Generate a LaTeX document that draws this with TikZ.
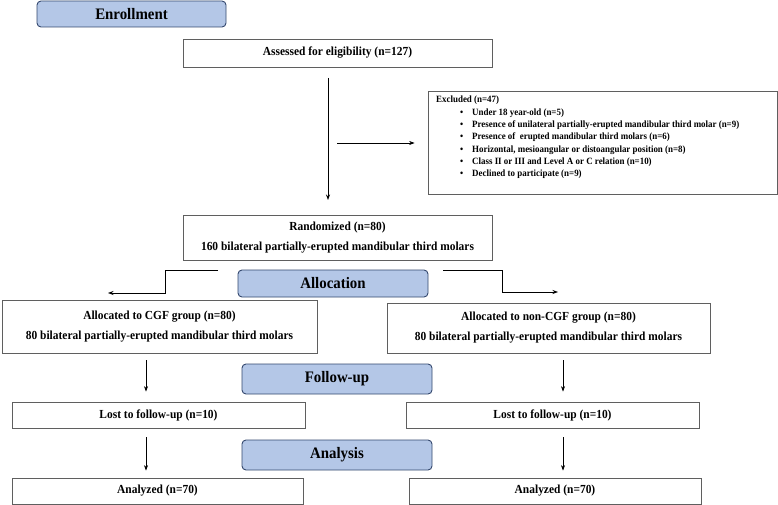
\documentclass[tikz,border=0pt]{standalone}
\usepackage{fontspec}
\setmainfont[FakeStretch=0.93]{Liberation Serif}

\definecolor{PhaseBlue}{RGB}{180,199,231}
\definecolor{PhaseEdge}{RGB}{52,72,110}
\definecolor{BoxGrey}{RGB}{95,95,95}
\colorlet{ColourPhase}{PhaseBlue}
\colorlet{ColourPhaseEdge}{PhaseEdge}
\colorlet{ColourBox}{BoxGrey}
\usetikzlibrary{arrows.meta}
\usetikzlibrary{positioning}

\tikzset{
  phase/.style={draw=ColourPhaseEdge, fill=ColourPhase, rounded corners=4pt,
    line width=0.9pt, minimum width=190pt, inner sep=0pt,
    font=\fontsize{16}{18}\selectfont\bfseries},
  infobox/.style={draw=ColourBox, line width=0.8pt, align=center, inner sep=0pt,
    font=\fontsize{12.3}{20}\selectfont\bfseries},
  flow/.style={line width=0.6pt, black, -{Stealth[length=5.5pt,width=4pt]}},
}

\newcommand{\exclitem}[1]{\hspace*{24pt}\makebox[12pt][l]{\textbullet}#1}

\begin{document}
\begin{tikzpicture}[x=1pt,y=-1pt]

  \useasboundingbox (0,0) rectangle (778,505);

  % stage headers
  \node[phase, minimum width=189pt, minimum height=26pt] (enroll) at (131.5,14) {Enrollment};
  \node[phase, minimum height=27pt] (alloc) at (333,283.5) {Allocation};
  \node[phase, minimum height=30pt] (follow) at (337,379) {Follow-up};
  \node[phase, minimum height=30pt] (analysis) at (337,455) {Analysis};

  % enrollment
  \node[infobox, minimum width=309pt, minimum height=28pt] (assess) at (337.5,53)
    {Assessed for eligibility (n=127)};

  \node[draw=ColourBox, line width=0.8pt, minimum width=349pt, minimum height=103pt,
    inner sep=0pt] (excl) at (602.5,142.5) {};
  \node[anchor=north west, align=left, inner sep=0pt,
    font=\fontsize{9.6}{12.3}\selectfont\bfseries] (excltext) at (436,96) {%
    Excluded (n=47)\\
    \exclitem{Under 18 year-old (n=5)}\\
    \exclitem{Presence of unilateral partially-erupted mandibular third molar (n=9)}\\
    \exclitem{Presence of\ \ erupted mandibular third molars (n=6)}\\
    \exclitem{Horizontal, mesioangular or distoangular position (n=8)}\\
    \exclitem{Class II or III and Level A or C relation (n=10)}\\
    \exclitem{Declined to participate (n=9)}};

  \node[infobox, minimum width=309pt, minimum height=45pt] (rand) at (337.5,237.5)
    {Randomized (n=80)\\160 bilateral partially-erupted mandibular third molars};

  % allocation
  \node[infobox, minimum width=315pt, minimum height=53pt] (cgf) at (159.5,326.5)
    {Allocated to CGF group (n=80)\\80 bilateral partially-erupted mandibular third molars};
  \node[infobox, minimum width=323pt, minimum height=50pt] (noncgf) at (548.5,328)
    {Allocated to non-CGF group (n=80)\\80 bilateral partially-erupted mandibular third molars};

  % follow-up
  \node[infobox, minimum width=293pt, minimum height=26pt] (lostL) at (158.5,415)
    {Lost to follow-up (n=10)};
  \node[infobox, minimum width=293pt, minimum height=26pt] (lostR) at (552.5,415)
    {Lost to follow-up (n=10)};

  % analysis
  \node[infobox, minimum width=291pt, minimum height=26pt] (anL) at (157.5,491)
    {Analyzed (n=70)};
  \node[infobox, minimum width=292pt, minimum height=26pt] (anR) at (555,491)
    {Analyzed (n=70)};

  % free ends of the arrows
  \coordinate (downtop) at (328,78);
  \coordinate (downend) at (328,200);
  \coordinate (exclfrom) at (337,143);
  \coordinate (splitL) at (218,270);
  \coordinate (endL) at (108,293);
  \coordinate (splitR) at (443,270);
  \coordinate (endR) at (558,292);
  \coordinate (fuL) at (146,360);
  \coordinate (fuR) at (563,360);
  \coordinate (anaL) at (146,437);
  \coordinate (anaR) at (563,437);

  \draw[flow] (downtop) -- (downend);
  \draw[flow, shorten >=13pt] (exclfrom) -- (exclfrom -| excl.west);

  \draw[flow] (splitL) -- (165,270) -- (165,293) -- (endL);
  \draw[flow] (splitR) -- (502,270) -- (502,292) -- (endR);

  \draw[flow, shorten >=10pt] (fuL) -- (fuL |- lostL.north);
  \draw[flow, shorten >=10pt] (fuR) -- (fuR |- lostR.north);
  \draw[flow, shorten >=7pt] (anaL) -- (anaL |- anL.north);
  \draw[flow, shorten >=7pt] (anaR) -- (anaR |- anR.north);

\end{tikzpicture}
\end{document}
